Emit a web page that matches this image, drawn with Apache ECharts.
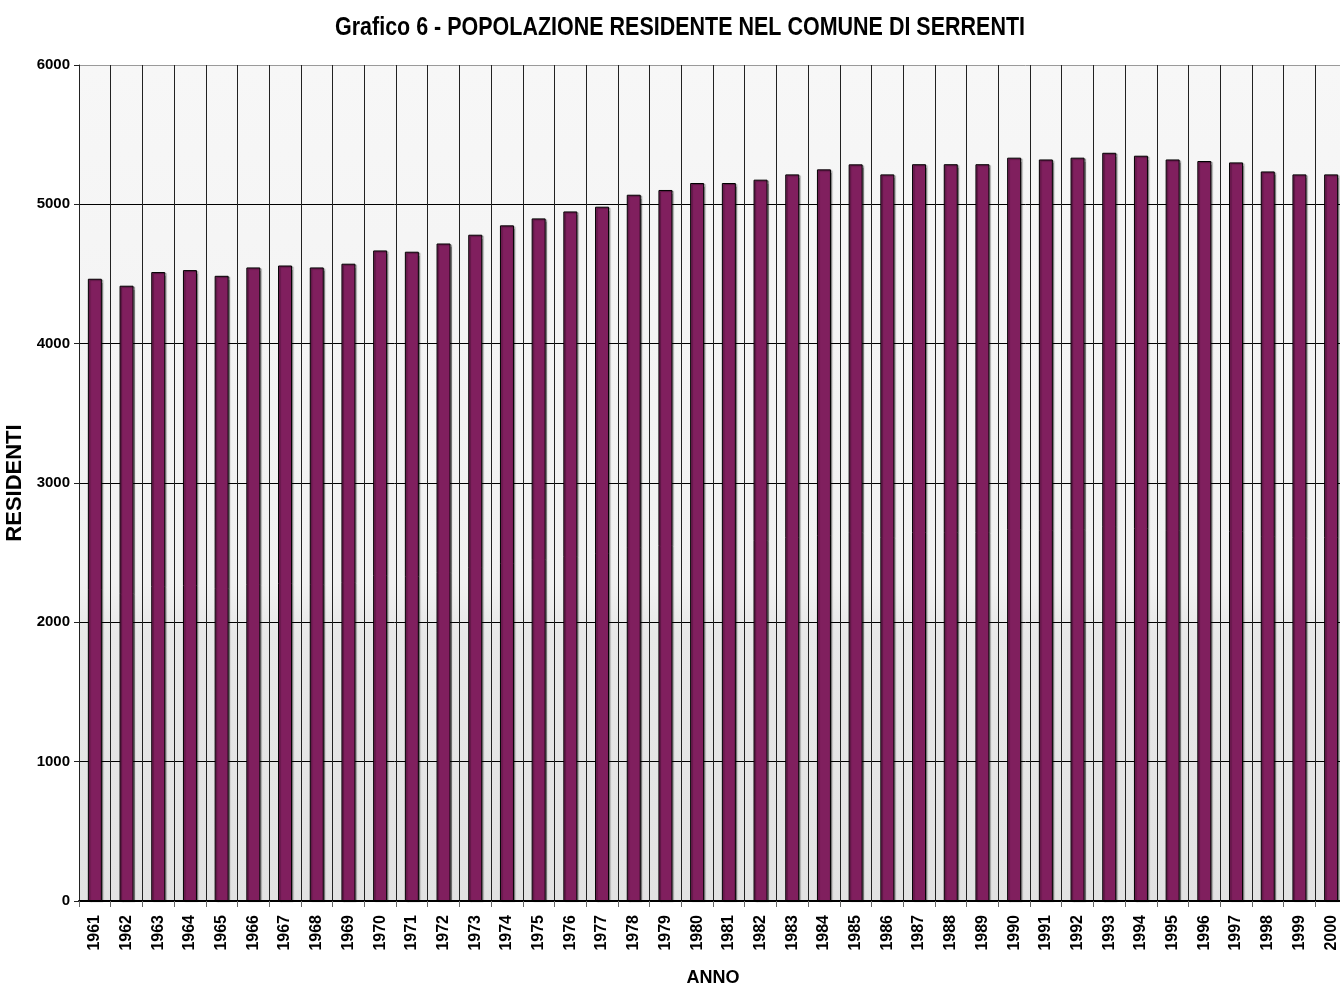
<!DOCTYPE html>
<html>
<head>
<meta charset="utf-8">
<title>Popolazione residente - Serrenti</title>
<script src="https://cdn.jsdelivr.net/npm/echarts@6/dist/echarts.min.js"></script>
<style>
  html, body { margin: 0; padding: 0; background: #fff; overflow: hidden; }
  #chart { width: 1340px; height: 986px; display: block; }
</style>
</head>
<body>
<div id="chart"></div>
<script>
// Residenti per anno
const anni = ['1961','1962','1963','1964','1965','1966','1967','1968','1969','1970',
              '1971','1972','1973','1974','1975','1976','1977','1978','1979','1980',
              '1981','1982','1983','1984','1985','1986','1987','1988','1989','1990',
              '1991','1992','1993','1994','1995','1996','1997','1998','1999','2000'];
const residenti = [4466, 4416, 4514, 4528, 4487, 4547, 4561, 4547, 4574, 4669,
                   4660, 4719, 4782, 4849, 4899, 4949, 4983, 5069, 5103, 5153,
                   5153, 5177, 5215, 5251, 5287, 5215, 5288, 5288, 5288, 5335,
                   5322, 5335, 5370, 5349, 5322, 5311, 5301, 5236, 5215, 5215];
const yTicks = [0, 1000, 2000, 3000, 4000, 5000, 6000];

const titolo = 'Grafico 6 - POPOLAZIONE RESIDENTE NEL COMUNE DI SERRENTI';
const FONT = '"Liberation Sans", Arial, sans-serif';

// condensed title: measure natural width and squeeze to the target span
const titleFont = 'bold 26px ' + FONT;
const ctx = document.createElement('canvas').getContext('2d');
ctx.font = titleFont;
const titleScale = 690 / ctx.measureText(titolo).width;

const chart = echarts.init(document.getElementById('chart'), null, { renderer: 'canvas', width: 1340, height: 986 });

chart.setOption({
  backgroundColor: '#ffffff',
  animation: false,
  graphic: [{
    type: 'text',
    x: 680, y: 28,
    scaleX: titleScale,
    style: {
      text: titolo,
      font: titleFont,
      fill: '#000',
      align: 'center',
      verticalAlign: 'middle'
    }
  }],
  grid: {
    left: 79, top: 65, width: 1268, height: 836,
    containLabel: false,
    outerBoundsMode: 'none',
    show: true,
    borderWidth: 0,
    backgroundColor: {
      type: 'linear', x: 0, y: 0, x2: 0, y2: 1,
      colorStops: [
        { offset: 0, color: '#f7f7f7' },
        { offset: 0.62, color: '#f1f1f1' },
        { offset: 0.68, color: '#e8e8e8' },
        { offset: 1, color: '#e2e2e2' }
      ]
    }
  },
  xAxis: {
    type: 'category',
    data: anni,
    boundaryGap: true,
    name: 'ANNO',
    nameLocation: 'middle',
    nameGap: 68,
    nameTextStyle: { fontFamily: FONT, fontWeight: 'bold', fontSize: 18, color: '#000' },
    axisLine: { show: true, lineStyle: { color: '#000', width: 2 } },
    axisTick: { show: true, length: 6, lineStyle: { color: '#666', width: 1 } },
    axisLabel: {
      rotate: 90, margin: 14, interval: 0,
      fontFamily: FONT, fontWeight: 'bold', fontSize: 16, color: '#000'
    },
    splitLine: { show: true, interval: 0, lineStyle: { color: '#222', width: 1 } }
  },
  yAxis: {
    type: 'value',
    min: 0, max: 6000, interval: 1000,
    name: 'RESIDENTI',
    nameLocation: 'middle',
    nameRotate: 90,
    nameGap: 48,
    nameTextStyle: { fontFamily: FONT, fontWeight: 'bold', fontSize: 22, color: '#000' },
    axisLine: { show: true, lineStyle: { color: '#222', width: 1 } },
    axisTick: { show: true, length: 5, lineStyle: { color: '#222', width: 1 } },
    axisLabel: {
      margin: 9,
      fontFamily: FONT, fontWeight: 'bold', fontSize: 15, color: '#000',
      formatter: v => yTicks.includes(v) ? String(v) : ''
    },
    splitLine: {
      show: true,
      lineStyle: { color: ['#000', '#000', '#000', '#000', '#000', '#000', '#9a9a9a'], width: 1 }
    }
  },
  series: [{
    type: 'bar',
    data: residenti,
    barWidth: 14,
    itemStyle: {
      color: '#801f5e',
      borderColor: '#000',
      borderWidth: 1,
      shadowColor: 'rgba(0,0,0,0.35)',
      shadowOffsetX: 1.5,
      shadowOffsetY: 1,
      shadowBlur: 1
    }
  }]
});
</script>
</body>
</html>
